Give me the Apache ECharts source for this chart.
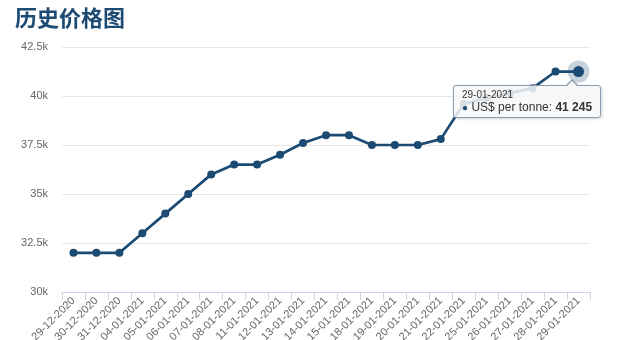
<!DOCTYPE html>
<html>
<head>
<meta charset="utf-8">
<script src="https://cdn.jsdelivr.net/npm/echarts@6/dist/echarts.min.js"></script>
<style>
  html, body { margin: 0; padding: 0; background: #fff; }
  #chart { width: 639px; height: 340px; }
</style>
</head>
<body>
<div id="chart"></div>
<script>
// Trading dates (category axis)
const dates = [
  '29-12-2020', '30-12-2020', '31-12-2020', '04-01-2021', '05-01-2021',
  '06-01-2021', '07-01-2021', '08-01-2021', '11-01-2021', '12-01-2021',
  '13-01-2021', '14-01-2021', '15-01-2021', '18-01-2021', '19-01-2021',
  '20-01-2021', '21-01-2021', '22-01-2021', '25-01-2021', '26-01-2021',
  '27-01-2021', '28-01-2021', '29-01-2021'
];

// Price, US$ per tonne
const prices = [
  32000, 32000, 32000, 33000, 34000,
  35000, 36000, 36500, 36500, 37000,
  37600, 38000, 38000, 37500, 37500,
  37500, 37800, 39600, 39900, 40150,
  40400, 41250, 41245
];

const seriesName = 'US$ per tonne';
const yTicks = { min: 30000, max: 42500, step: 2500 };
const focusIndex = dates.length - 1;

const lineColor = '#1b4a72';
const fontFamily = '"Liberation Sans", Arial, sans-serif';

const chart = echarts.init(document.getElementById('chart'), null, { renderer: 'canvas' });

const seriesData = prices.map((v, i) =>
  i === focusIndex ? { value: v, symbolSize: 11 } : v
);

function formatThousands(n) {
  return String(n).replace(/\B(?=(\d{3})+(?!\d))/g, ' ');
}

chart.setOption({
  animation: false,
  title: {
    text: '历史价格图',
    left: 10,
    top: 2,
    textStyle: {
      fontFamily: '"Noto Sans CJK SC", sans-serif',
      fontSize: 22,
      fontWeight: 'bold',
      color: '#1d4b73'
    }
  },
  grid: { left: 62, right: 49, top: 47, bottom: 48, containLabel: false, outerBoundsMode: 'none' },
  xAxis: {
    type: 'category',
    data: dates,
    boundaryGap: true,
    axisLine: { lineStyle: { color: '#ccd6eb', width: 1 } },
    axisTick: { show: true, length: 8, lineStyle: { color: '#ccd6eb' } },
    axisLabel: {
      interval: 0,
      rotate: 45,
      color: '#666666',
      fontSize: 11,
      fontFamily: fontFamily,
      margin: 7
    },
    splitLine: { show: false }
  },
  yAxis: {
    type: 'value',
    min: yTicks.min,
    max: yTicks.max,
    interval: yTicks.step,
    axisLine: { show: false },
    axisTick: { show: false },
    axisLabel: {
      color: '#666666',
      fontSize: 11,
      fontFamily: fontFamily,
      margin: 14,
      formatter: v => (v / 1000) + 'k'
    },
    splitLine: { lineStyle: { color: '#e6e6e6', width: 1 } }
  },
  tooltip: {
    trigger: 'item',
    triggerOn: 'none',
    alwaysShowContent: true,
    backgroundColor: 'rgba(247,247,247,0.85)',
    borderColor: '#8a9db0',
    borderWidth: 1,
    borderRadius: 3,
    padding: [3, 8, 2, 8],
    extraCssText: 'box-shadow: 1px 1px 3px rgba(0,0,0,0.18); overflow: visible;',
    transitionDuration: 0,
    position: function (pos, params) {
      const p = chart.convertToPixel({ seriesIndex: 0 }, [params.dataIndex, prices[params.dataIndex]]);
      return [Math.round(p[0] - 126), Math.round(p[1] + 13)];
    },
    formatter: function (params) {
      const arrowLeft = 126 - 8 - 7;
      return (
        '<div style="position:absolute;left:' + arrowLeft + 'px;top:-7px;width:0;height:0;' +
          'border-left:7px solid transparent;border-right:7px solid transparent;border-bottom:7px solid #8a9db0;"></div>' +
        '<div style="position:absolute;left:' + (arrowLeft + 1) + 'px;top:-5px;width:0;height:0;' +
          'border-left:6px solid transparent;border-right:6px solid transparent;border-bottom:6px solid #f7f7f7;"></div>' +
        '<div style="font-family:' + fontFamily.replace(/"/g, "'") + ';color:#333;">' +
          '<div style="font-size:10px;line-height:11px;">' + params.name + '</div>' +
          '<div style="font-size:12px;line-height:15px;">' +
            '<span style="color:' + lineColor + ';font-size:10px;">\u25CF</span> ' +
            params.seriesName + ': <b>' + formatThousands(params.value) + '</b>' +
          '</div>' +
        '</div>'
      );
    }
  },
  series: [{
    name: seriesName,
    type: 'line',
    data: seriesData,
    symbol: 'circle',
    symbolSize: 8,
    showAllSymbol: true,
    lineStyle: { color: lineColor, width: 2.7 },
    itemStyle: { color: lineColor },
    emphasis: { disabled: true },
    z: 3,
    markPoint: {
      silent: true,
      symbol: 'circle',
      symbolSize: 22,
      itemStyle: { color: 'rgba(27,74,114,0.25)' },
      label: { show: false },
      z: 2,
      data: [{ coord: [focusIndex, prices[focusIndex]] }]
    }
  }]
});

chart.dispatchAction({ type: 'showTip', seriesIndex: 0, dataIndex: focusIndex });
</script>
</body>
</html>
